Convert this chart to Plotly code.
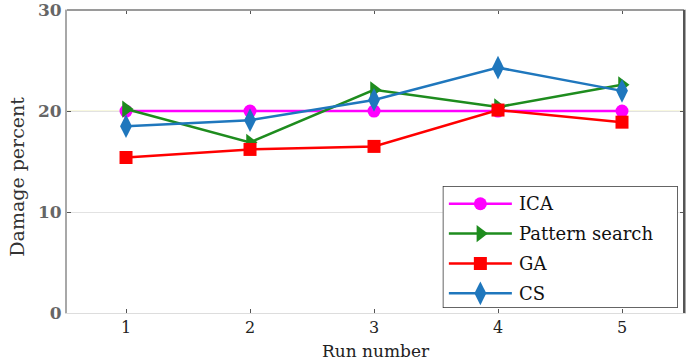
import plotly.graph_objects as go

runs = [1, 2, 3, 4, 5]
names = ["ICA", "Pattern search", "GA", "CS"]
ica = [20.0, 20.0, 20.0, 20.0, 20.0]
pattern = [20.2, 16.9, 22.1, 20.4, 22.6]
ga = [15.4, 16.2, 16.5, 20.1, 18.9]
cs = [18.5, 19.1, 21.1, 24.3, 22.0]
y_ticks = [0, 10, 20, 30]

series = [ica, pattern, ga, cs]
colors = ["#ff00ff", "#1e8c1e", "#ff0000", "#1f77bd"]
symbols = ["circle", "triangle-right", "square", "diamond-tall"]
msizes = [13, 15, 13, 17]

FONT = "DejaVu Serif"

fig = go.Figure()
for name, vals, c, s, ms in zip(names, series, colors, symbols, msizes):
    fig.add_trace(go.Scatter(
        x=runs, y=vals, mode="lines+markers", name=name,
        line=dict(color=c, width=2.5),
        marker=dict(symbol=s, size=ms, color=c),
        showlegend=False, xaxis="x", yaxis="y"))

# custom legend on an overlay subplot
fig.add_trace(go.Scatter(
    x=[0, 1, 1, 0, 0], y=[0, 0, 1, 1, 0], mode="lines", fill="toself",
    fillcolor="white", line=dict(color="#333333", width=1.5),
    showlegend=False, hoverinfo="skip", xaxis="x2", yaxis="y2"))
annotations = []
for i, (name, c, s, ms) in enumerate(zip(names, colors, symbols, msizes)):
    yy = 0.855 - 0.245 * i
    fig.add_trace(go.Scatter(
        x=[0.026, 0.294], y=[yy, yy], mode="lines",
        line=dict(color=c, width=2.5),
        showlegend=False, hoverinfo="skip", xaxis="x2", yaxis="y2"))
    fig.add_trace(go.Scatter(
        x=[0.16], y=[yy], mode="markers",
        marker=dict(symbol=s, size=ms, color=c),
        showlegend=False, hoverinfo="skip", xaxis="x2", yaxis="y2"))
    annotations.append(dict(
        x=0.315, y=yy, xref="x2", yref="y2", text=name, showarrow=False,
        xanchor="left", yanchor="middle",
        font=dict(family=FONT, size=18, color="#111111")))

annotations.append(dict(
    text="Run number", x=0.5, xref="paper", y=0, yref="paper",
    yshift=-26, xanchor="center", yanchor="top", showarrow=False,
    font=dict(family=FONT, size=17, color="#222222")))
annotations.append(dict(
    text="Damage percent", x=0, xref="paper", y=0.45, yref="paper",
    xshift=-50, textangle=-90, xanchor="center", yanchor="middle",
    showarrow=False, font=dict(family=FONT, size=19, color="#333333")))

shapes = [
    dict(type="line", xref="x", yref="y", x0=0.524, x1=5.5, y0=20, y1=20,
         line=dict(color="#f0f0b8", width=1), layer="below"),
    dict(type="line", xref="paper", yref="paper", x0=0, x1=1, y0=1, y1=1,
         line=dict(color="#9a9a9a", width=2)),
    dict(type="line", xref="paper", yref="paper", x0=1, x1=1, y0=0, y1=1,
         line=dict(color="#555555", width=2)),
]

fig.update_layout(
    width=695, height=360,
    margin=dict(l=67, r=11, t=10, b=47, autoexpand=False),
    plot_bgcolor="white", paper_bgcolor="white",
    showlegend=False,
    xaxis=dict(range=[0.524, 5.5], tickvals=runs, ticktext=[str(r) for r in runs],
               showgrid=False, zeroline=False, showline=True, automargin=False,
               linecolor="#dddddd", linewidth=1,
               ticks="inside", ticklen=4, tickcolor="#555555", mirror="ticks",
               tickfont=dict(family=FONT, size=16, color="#222222")),
    yaxis=dict(range=[-0.001, 30.01], tickmode="array", tickvals=y_ticks,
               ticktext=[str(v) for v in y_ticks], showgrid=True, automargin=False,
               gridcolor="#e2e2e2", gridwidth=1, zeroline=False,
               showline=True, linecolor="#a8a8a8", linewidth=2,
               ticks="inside", ticklen=4, tickcolor="#555555", mirror="ticks",
               tickfont=dict(family=FONT, size=17, color="#666666", weight="bold")),
    xaxis2=dict(domain=[0.609, 0.990], range=[0, 1], visible=False,
                anchor="y2", fixedrange=True),
    yaxis2=dict(domain=[0.0165, 0.419], range=[0, 1], visible=False,
                anchor="x2", fixedrange=True),
    annotations=annotations,
    shapes=shapes,
)

fig.write_html("out.html")
